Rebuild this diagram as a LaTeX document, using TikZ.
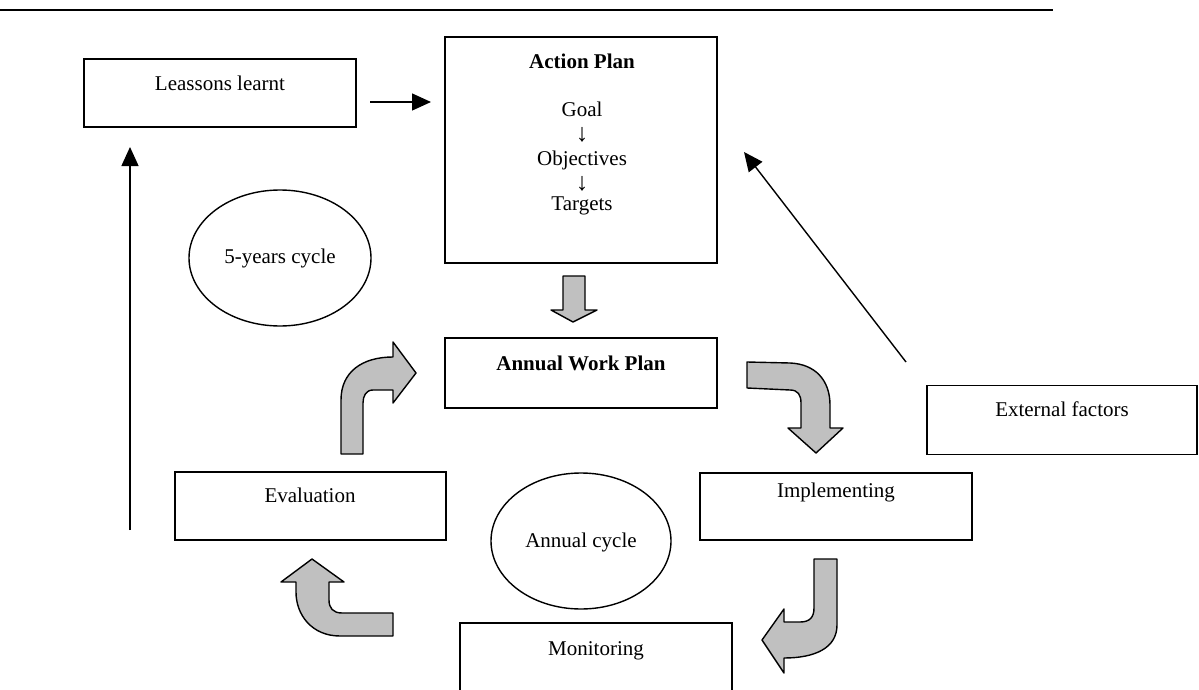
\documentclass[tikz,border=0pt]{standalone}
\usepackage{fontspec}
\setmainfont{Liberation Serif}
\usetikzlibrary{arrows.meta,shapes.geometric}
\definecolor{blockgray}{HTML}{C0C0C0}
\begin{document}
\begin{tikzpicture}[x=1pt,y=-1pt,
  box/.style={draw,line width=1.4pt,rectangle,inner sep=0pt},
  txt/.style={anchor=base,inner sep=0pt,font=\fontsize{21}{25}\selectfont},
  darrow/.style={anchor=base,inner sep=0pt,text height=12pt,text depth=0pt,font=\fontsize{25}{28}\selectfont},
  oval/.style={draw,line width=1.4pt,ellipse,inner sep=0pt},
  arr/.style={line width=1.4pt,-{Triangle[length=19pt,width=17pt]}},
  block/.style={draw,line width=1.4pt,fill=blockgray,line join=round}]
\useasboundingbox (0,0) rectangle (1199,690);
\clip (0,0) rectangle (1199,690);
% top rule
\coordinate (r1) at (0,10);
\coordinate (r2) at (1053,10);
\draw[line width=1.4pt] (r1) -- (r2);
% boxes
\node[box,minimum width=272pt,minimum height=68pt] (lessons) at (220,93) {};
\node[box,minimum width=272pt,minimum height=226pt] (action) at (581,150) {};
\node[box,minimum width=272pt,minimum height=70pt] (awp) at (581,373) {};
\node[box,minimum width=270pt,minimum height=69pt] (external) at (1062,420) {};
\node[box,minimum width=271pt,minimum height=68pt] (evaluation) at (310.5,506) {};
\node[box,minimum width=272pt,minimum height=67pt] (implementing) at (836,506.5) {};
\node[box,minimum width=272pt,minimum height=80pt] (monitoring) at (596,663) {};
% ellipses
\node[oval,minimum width=182pt,minimum height=136pt] (five) at (280,258) {};
\node[oval,minimum width=180pt,minimum height=136pt] (annual) at (581,541) {};
% texts
\node[txt] (tlessons) at (220,91) {Leassons learnt};
\node[txt] (taction) at (582,69) {\bfseries Action Plan};
\node[txt] (tgoal) at (582,117) {Goal};
\node[darrow] (tarr1) at (582,142) {↓};
\node[txt] (tobj) at (582,165) {Objectives};
\node[darrow] (tarr2) at (582,190) {↓};
\node[txt] (ttarget) at (582,210) {Targets};
\node[txt] (tawp) at (581,370) {\bfseries Annual Work Plan};
\node[txt] (text) at (1062,416) {External factors};
\node[txt] (teval) at (310,502) {Evaluation};
\node[txt] (timpl) at (836,497) {Implementing};
\node[txt] (tannual) at (581,547) {Annual cycle};
\node[txt] (tmon) at (596,655) {Monitoring};
\node[txt] (tfive) at (280,263) {5-years cycle};
% line arrows
\coordinate (la1) at (370,102);
\coordinate (la2) at (431,102);
\draw[arr] (la1) -- (la2);
\coordinate (lv1) at (130,530);
\coordinate (lv2) at (130,147);
\draw[arr] (lv1) -- (lv2);
\coordinate (ld1) at (906,362);
\coordinate (ld2) at (744,152);
\draw[arr] (ld1) -- (ld2);
% block arrow down
\draw[block] (563,276) -- (585,276) -- (585,310) -- (597,310) -- (573,322) -- (551,310) -- (563,310) -- cycle;
% bent arrow: evaluation -> annual work plan
\draw[block] (341,454) -- (341,400) .. controls (341,372) and (362,357) .. (393,357)
  -- (393,342) -- (416,373) -- (393,403) -- (393,390) -- (373,390)
  .. controls (366,390) and (363,396) .. (363,403) -- (363,454) -- cycle;
% bent arrow: annual work plan -> implementing
\draw[block] (747,362) -- (790,363) .. controls (815,364) and (830,380) .. (830,405)
  -- (830,428) -- (843,428) -- (816,453) -- (788,428) -- (801,428) -- (801,403)
  .. controls (801,395) and (798,390) .. (790,390) -- (747,388) -- cycle;
% bent arrow: implementing -> monitoring
\draw[block] (814,559) -- (837,559) -- (837,625) .. controls (837,648) and (815,658) .. (784,658)
  -- (784,673) -- (762,640) -- (784,609) -- (784,622) -- (800,622)
  .. controls (810,622) and (814,617) .. (814,608) -- cycle;
% bent arrow: monitoring -> evaluation
\draw[block] (393,613) -- (393,636) -- (340,636) .. controls (312,636) and (296,615) .. (296,592)
  -- (296,582) -- (281,582) -- (312,559) -- (344,582) -- (329,582) -- (329,600)
  .. controls (329,608) and (333,613) .. (342,613) -- cycle;
\end{tikzpicture}
\end{document}
